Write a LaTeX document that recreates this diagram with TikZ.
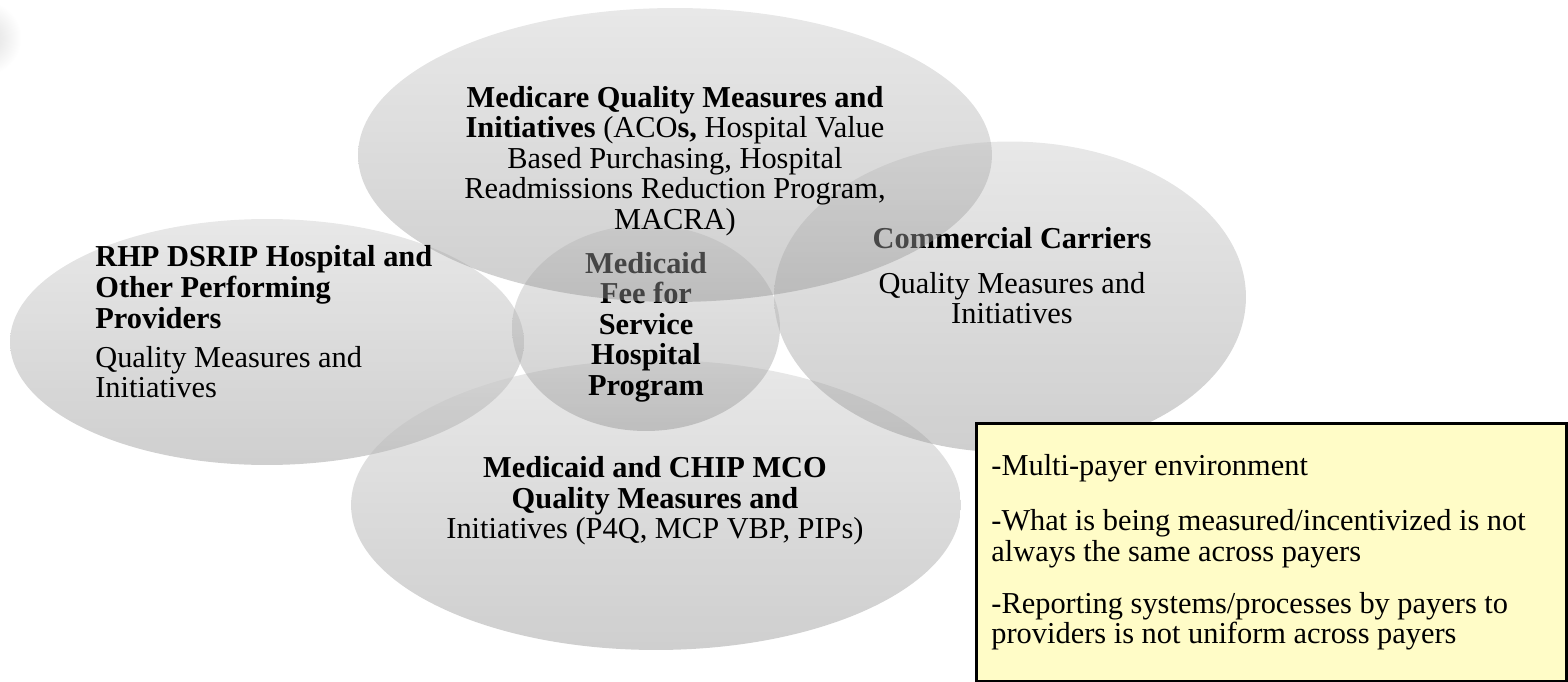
\documentclass[tikz,border=0pt]{standalone}
\usepackage{fontspec}
\setmainfont{Liberation Serif}
\usetikzlibrary{shapes.geometric, shadows}

\begin{document}
\begin{tikzpicture}[x=0.02cm, y=-0.02cm,
    bubble/.style={ellipse, draw=none, inner sep=0pt, top color=black!20, bottom color=black!42, fill opacity=0.45},
    bubbletext/.style={align=center, inner sep=0pt, font=\fontsize{17.3}{17.4}\selectfont},
    notebox/.style={draw=black, line width=1.6pt, fill=yellow!22, align=flush left, text width=11.2cm, minimum height=5.16cm, inner xsep=0.3cm,
        font=\fontsize{17.3}{17.4}\selectfont, drop shadow={shadow xshift=1.6pt, shadow yshift=-1.6pt, opacity=0.7}},
    cornerblob/.style={circle, draw=none, minimum size=1.5cm, inner color=black!14, outer color=white}]
    \useasboundingbox (0,0) rectangle (1568,682);

    % faint blob cut off at the left edge
    \node[cornerblob] (blob) at (-16,38) {};

    % outer bubbles
    \node[bubble, minimum width=10.28cm, minimum height=4.92cm] (rhp) at (267,342) {};
    \node[bubble, minimum width=12.2cm, minimum height=5.8cm] (mco) at (656,505) {};
    \node[bubble, minimum width=9.44cm, minimum height=6.22cm] (comm) at (1010,297) {};
    \node[bubble, minimum width=5.36cm, minimum height=4.12cm] (ffs) at (646,328) {};

    % texts lying under the Medicare bubble
    \node[bubbletext] (ffstext) at (646,327) {\textbf{Medicaid}\\ \textbf{Fee for}\\ \textbf{Service}\\ \textbf{Hospital}\\ \textbf{Program}};
    \node[bubbletext] (commtext) at (1012,276) {\textbf{Commercial Carriers}\\[8pt] Quality Measures and\\ Initiatives};

    % Medicare bubble on top
    \node[bubble, minimum width=12.68cm, minimum height=5.88cm] (medicare) at (675,155) {};
    \node[bubbletext] (medicaretext) at (675,161) {\textbf{Medicare Quality Measures and}\\ \textbf{Initiatives} (ACO\textbf{s,} Hospital Value\\ Based Purchasing, Hospital\\ Readmissions Reduction Program,\\ MACRA)};

    \node[bubbletext, align=left, anchor=west] (rhptext) at (95,322) {\textbf{RHP DSRIP Hospital and}\\ \textbf{Other Performing}\\ \textbf{Providers}\\[5pt] Quality Measures and\\ Initiatives};
    \node[bubbletext] (mcotext) at (655,501) {\textbf{Medicaid and CHIP MCO}\\ \textbf{Quality Measures and}\\ Initiatives (P4Q, MCP VBP, PIPs)};

    % notes box
    \node[notebox, anchor=north west] (notes) at (975,422) {-Multi-payer environment\\[14pt] -What is being measured/incentivized is not always the same across payers\\[12pt] -Reporting systems/processes by payers to providers is not uniform across payers};
\end{tikzpicture}
\end{document}
